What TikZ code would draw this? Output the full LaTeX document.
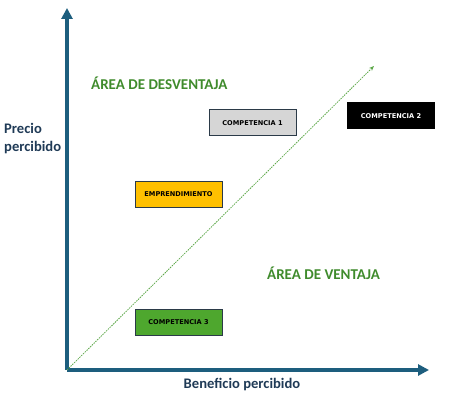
\documentclass[tikz,border=0pt]{standalone}
\usepackage{fontspec}
\setmainfont{Carlito}
\newfontfamily\boxfont{DejaVu Sans}
\usepackage{xcolor}
\usetikzlibrary{arrows.meta, positioning}

\definecolor{axisblue}{HTML}{1D5E7E}
\definecolor{labelnavy}{HTML}{1F3A56}
\definecolor{areagreen}{HTML}{3F8B2C}
\definecolor{diaggreen}{HTML}{5EA84A}
\definecolor{boxgray}{HTML}{D6D6D6}
\definecolor{boxyellow}{HTML}{FFC000}
\definecolor{boxgreen}{HTML}{4EA72E}
\definecolor{boxedge}{HTML}{2B3A48}

\begin{document}
\begin{tikzpicture}[
    x=1pt, y=-1pt,
    axis/.style={
        -{Triangle[length=11pt,width=11pt]},
        line width=3.6pt,
        color=axisblue
    },
    diag/.style={
        -{Stealth[length=5pt,width=4pt]},
        dash pattern=on 1.5pt off 1pt,
        line width=0.8pt,
        color=diaggreen
    },
    player/.style={
        draw=boxedge,
        line width=1pt,
        minimum width=87pt,
        minimum height=26pt,
        align=center,
        inner sep=1pt,
        font=\boxfont\bfseries\fontsize{6.6}{7.5}\selectfont
    },
    axislabel/.style={
        font=\bfseries\fontsize{14.6}{18}\selectfont,
        text=labelnavy,
        align=left,
        inner sep=0pt
    },
    arealabel/.style={
        font=\bfseries\fontsize{15}{17}\selectfont,
        text=areagreen,
        inner sep=0pt
    }
]
\useasboundingbox (0,0) rectangle (450,401);

% axes
\coordinate (origin) at (67,370);
\coordinate (ytop) at (67,8);
\coordinate (xend) at (429,370);
\coordinate (diagend) at (374,66);

\draw[axis] (origin) -- (ytop);
\draw[axis] (origin) -- (xend);
\draw[diag] (origin) -- (diagend);

\node[axislabel, anchor=west] (price) at (4,139) {Precio\\percibido};
\node[axislabel] (benefit) at (242,385) {Beneficio percibido};

% areas
\node[arealabel, anchor=west] (loss) at (91,83) {ÁREA DE DESVENTAJA};
\node[arealabel, anchor=west] (gain) at (267,273) {ÁREA DE VENTAJA};

% players
\node[player, fill=boxgray] (comp1) at (252.5,123) {COMPETENCIA 1};
\node[player, fill=black, text=white, draw=black] (comp2) at (391,116) {COMPETENCIA 2};
\node[player, fill=boxyellow] (startup) at (178.5,194.5) {EMPRENDIMIENTO};
\node[player, fill=boxgreen] (comp3) at (178.5,322) {COMPETENCIA 3};

\end{tikzpicture}
\end{document}
